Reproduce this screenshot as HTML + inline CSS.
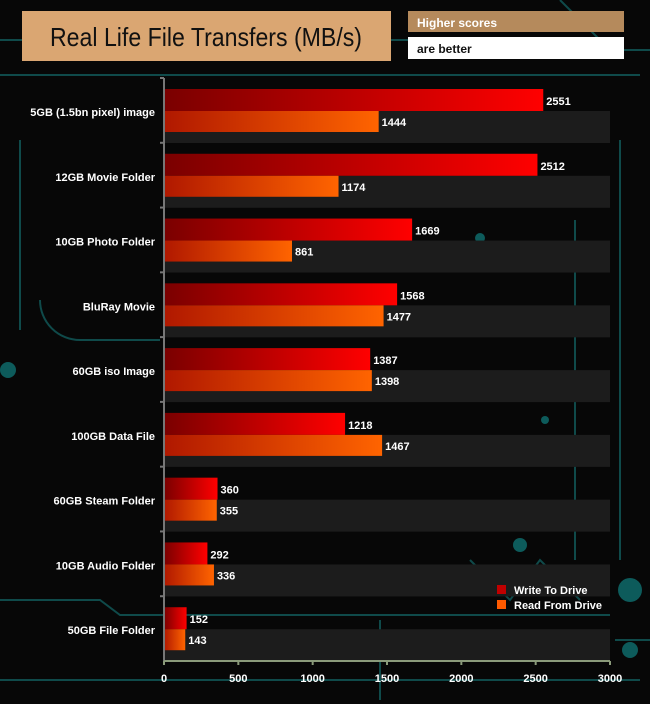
<!DOCTYPE html>
<html><head><meta charset="utf-8"><style>
body{margin:0;width:650px;height:704px;overflow:hidden;background:#070707;font-family:"Liberation Sans",sans-serif}
#c{position:absolute;left:0;top:0}
</style></head><body>
<svg id="c" width="650" height="704">
<g id="bg" stroke="#0f4a4a" stroke-width="2" fill="none">
<path d="M0 40 H22 M391 40 H408 M0 75 H640 M560 0 L610 50 H650"/>
<path d="M20 140 V330 M40 300 A40 40 0 0 0 80 340 H160"/>
<path d="M0 600 H100 L120 615 H610 M0 680 H640 M615 640 H650"/>
<path d="M620 140 V560 M575 220 V560"/>
<path d="M380 700 V620 M470 560 L510 600 L540 560 L580 600"/>
</g>
<g fill="#0d5b5b">
<circle cx="630" cy="590" r="12"/><circle cx="630" cy="650" r="8"/><circle cx="8" cy="370" r="8"/>
<circle cx="480" cy="238" r="5"/><circle cx="545" cy="420" r="4"/><circle cx="520" cy="545" r="7"/>
</g>
<g>
<rect x="22" y="11" width="369" height="50" fill="#daa672"/>
<text x="50" y="46" font-size="26" textLength="312" lengthAdjust="spacingAndGlyphs" fill="#111">Real Life File Transfers (MB/s)</text>
</g>
<rect x="408" y="11" width="216" height="21" fill="#b58a5c"/>
<text x="417" y="27" font-size="12" font-weight="bold" fill="#fff">Higher scores</text>
<rect x="408" y="37" width="216" height="22" fill="#fff"/>
<text x="417" y="53" font-size="12" font-weight="bold" fill="#111">are better</text>
<defs>
<linearGradient id="gw" x1="0" x2="1"><stop offset="0" stop-color="#7a0000"/><stop offset="1" stop-color="#ff0000"/></linearGradient>
<linearGradient id="gr" x1="0" x2="1"><stop offset="0" stop-color="#b01800"/><stop offset="1" stop-color="#ff6400"/></linearGradient>
</defs>
<g id="plot"></g>
<g>
<rect x="497" y="585" width="9" height="9" fill="#c00000"/>
<text x="514" y="594" font-size="11" font-weight="bold" fill="#fff">Write To  Drive</text>
<rect x="497" y="600" width="9" height="9" fill="#ff5a00"/>
<text x="514" y="609" font-size="11" font-weight="bold" fill="#fff">Read From  Drive</text>
</g>
</svg>
<script>
const categories=["5GB (1.5bn pixel) image","12GB Movie Folder","10GB Photo Folder","BluRay Movie","60GB iso Image","100GB Data File","60GB Steam Folder","10GB Audio Folder","50GB File Folder"];
const writeVals=[2551,2512,1669,1568,1387,1218,360,292,152];
const readVals=[1444,1174,861,1477,1398,1467,355,336,143];
const xTicks=[0,500,1000,1500,2000,2500,3000];
const NS="http://www.w3.org/2000/svg";
const X0=164,X1=610,YT=78,YB=661,MAX=3000;
const pitch=(YB-YT)/categories.length;
function x(v){return X0+v/MAX*(X1-X0);}
const g=document.getElementById('plot');
function mk(t,a,txt){const e=document.createElementNS(NS,t);for(const k in a)e.setAttribute(k,a[k]);if(txt!=null)e.textContent=txt;g.appendChild(e);return e;}
categories.forEach((c,i)=>{
 const t=YT+i*pitch;
 const s=mk('rect',{x:X0,y:t+33,width:X1-X0,height:32,fill:'#1c1c1c'});
 
 
 const w=mk('rect',{x:X0,y:t+11,width:x(writeVals[i])-X0,height:22,fill:'url(#gw)'});
 
 
 const r=mk('rect',{x:X0,y:t+33,width:x(readVals[i])-X0,height:21,fill:'url(#gr)'});
 
 
 const wl=mk('text',{x:x(writeVals[i])+3,y:t+27,'font-size':11,'font-weight':'bold',fill:'#fff'},writeVals[i]);
 
 
 const rl=mk('text',{x:x(readVals[i])+3,y:t+48,'font-size':11,'font-weight':'bold',fill:'#fff'},readVals[i]);
 
 
 const cl=mk('text',{x:155,y:t+38,'font-size':11,'font-weight':'bold',fill:'#fff','text-anchor':'end'},c);
 
 
 const tk=mk('line',{x1:160,x2:164,y1:t,y2:t,stroke:'#777','stroke-width':2});
 
 
});
const ya=mk('line',{x1:X0,x2:X0,y1:YT,y2:YB,stroke:'#777','stroke-width':2});


const xa=mk('line',{x1:X0,x2:X1,y1:YB,y2:YB,stroke:'#8a9a7a','stroke-width':2});


xTicks.forEach(v=>{
 const l=mk('line',{x1:x(v),x2:x(v),y1:YB,y2:YB+4,stroke:'#8a9a7a','stroke-width':2});
 
 
 const t=mk('text',{x:x(v),y:682,'font-size':11,'font-weight':'bold',fill:'#fff','text-anchor':'middle'},v);
 
 
});
</script>
</body></html>
